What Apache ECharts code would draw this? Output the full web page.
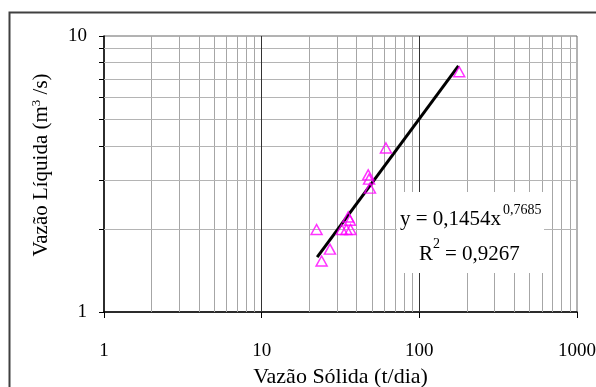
<!DOCTYPE html>
<html lang="pt">
<head>
    <meta charset="UTF-8">
    <title>Vazão Sólida x Vazão Líquida</title>
    <script src="https://cdn.jsdelivr.net/npm/echarts@6/dist/echarts.min.js"></script>
</head>
<body style="margin: 0">
<div id="main" style="width: 596px;height: 387px"></div>
<script>
    // medições: vazão sólida (t/dia) x vazão líquida (m3/s)
    const vazaoSolida = [179, 61.4, 47.4, 48.0, 48.6, 35.4, 36.3, 32.2, 34.5, 36.6, 22.3, 27.1, 24.0];
    const vazaoLiquida = [7.42, 3.93, 3.14, 3.03, 2.81, 2.21, 2.15, 1.99, 1.99, 1.99, 1.99, 1.69, 1.53];

    // linha de tendência (potência), extremos
    const trendX = [22.5, 177];
    const trendY = [1.58, 7.8];

    // grade
    const xMinorGrid = [2, 3, 4, 5, 6, 7, 8, 9, 20, 30, 40, 50, 60, 70, 80, 90, 200, 300, 400, 500, 600, 700, 800, 900];
    const xMajorGrid = [10, 100];
    const yMinorGrid = [2, 3, 4, 5, 6, 7, 8, 9];
    const yTicks = [1, 2, 3, 4, 5, 6, 7, 8, 9, 10];
    const xTicks = [1, 10, 100, 1000];

    const serif = 'Liberation Serif';

    const gridLines = [];
    xMinorGrid.forEach(v => gridLines.push({xAxis: v, lineStyle: {color: '#a6a6a6', width: 1, type: 'solid'}}));
    yMinorGrid.forEach(v => gridLines.push({yAxis: v, lineStyle: {color: '#b4b4b4', width: 1, type: 'solid'}}));
    xMajorGrid.forEach(v => gridLines.push({xAxis: v, lineStyle: {color: '#333', width: 1, type: 'solid'}}));

    const chart = echarts.init(document.getElementById('main'));
    const option = {
        animation: false,
        grid: {
            left: 104, right: 19, top: 36, bottom: 75,
            outerBoundsMode: 'none',
            show: true, borderColor: '#666', borderWidth: 1, backgroundColor: '#fff'
        },
        xAxis: {
            type: 'log', logBase: 10, min: 1, max: 1000,
            name: 'Vazão Sólida (t/dia)',
            nameLocation: 'middle', nameGap: 53,
            nameTextStyle: {fontFamily: serif, fontSize: 22, color: '#000'},
            axisLine: {lineStyle: {color: '#000', width: 1.5}},
            axisTick: {show: true, length: 6, customValues: xTicks, lineStyle: {color: '#000'}},
            axisLabel: {
                fontFamily: serif, fontSize: 19, color: '#000', margin: 30, customValues: xTicks,
                formatter: v => String(Math.round(v))
            },
            splitLine: {show: false}
        },
        yAxis: {
            type: 'log', logBase: 10, min: 1, max: 10,
            name: 'Vazão Líquida (m{sup|3} /s)',
            nameLocation: 'middle', nameGap: 52,
            nameTextStyle: {
                fontFamily: serif, fontSize: 21, color: '#000', padding: [0, 0, 0, 18],
                rich: {sup: {fontFamily: serif, fontSize: 13, color: '#000', padding: [0, 0, 9, 0]}}
            },
            axisLine: {lineStyle: {color: '#000', width: 1.5}},
            axisTick: {show: true, length: 5, customValues: yTicks, lineStyle: {color: '#000'}},
            axisLabel: {
                fontFamily: serif, fontSize: 19, color: '#000', margin: 17, customValues: [1, 10],
                formatter: v => String(Math.round(v))
            },
            splitLine: {show: false}
        },
        series: [
            {
                type: 'scatter',
                data: vazaoSolida.map((x, i) => [x, vazaoLiquida[i]]),
                symbol: 'triangle',
                symbolSize: [11, 10],
                itemStyle: {color: 'rgba(0,0,0,0)', borderColor: '#ff00ff', borderWidth: 1.5},
                z: 4,
                markLine: {
                    silent: true,
                    symbol: ['none', 'none'],
                    label: {show: false},
                    z: 1,
                    data: gridLines
                }
            },
            {
                type: 'line',
                data: trendX.map((x, i) => [x, trendY[i]]),
                showSymbol: false,
                lineStyle: {color: '#000', width: 3},
                z: 3
            }
        ],
        graphic: [
            {
                type: 'rect', left: 7, top: 10, z: 0,
                shape: {width: 620, height: 420},
                style: {fill: 'none', stroke: '#404040', lineWidth: 2}
            },
            {
                type: 'rect', left: 397, top: 192, z: 50,
                shape: {width: 147, height: 81},
                style: {fill: '#fff'}
            },
            {
                type: 'text', left: 400, top: 209, z: 51,
                style: {text: 'y = 0,1454x', font: '21px "Liberation Serif"', fill: '#000'}
            },
            {
                type: 'text', left: 503, top: 203, z: 51,
                style: {text: '0,7685', font: '14px "Liberation Serif"', fill: '#000'}
            },
            {
                type: 'text', left: 419, top: 244, z: 51,
                style: {text: 'R', font: '21px "Liberation Serif"', fill: '#000'}
            },
            {
                type: 'text', left: 433, top: 237, z: 51,
                style: {text: '2', font: '14px "Liberation Serif"', fill: '#000'}
            },
            {
                type: 'text', left: 445, top: 244, z: 51,
                style: {text: '= 0,9267', font: '21px "Liberation Serif"', fill: '#000'}
            }
        ]
    };
    chart.setOption(option);
</script>
</body>
</html>
